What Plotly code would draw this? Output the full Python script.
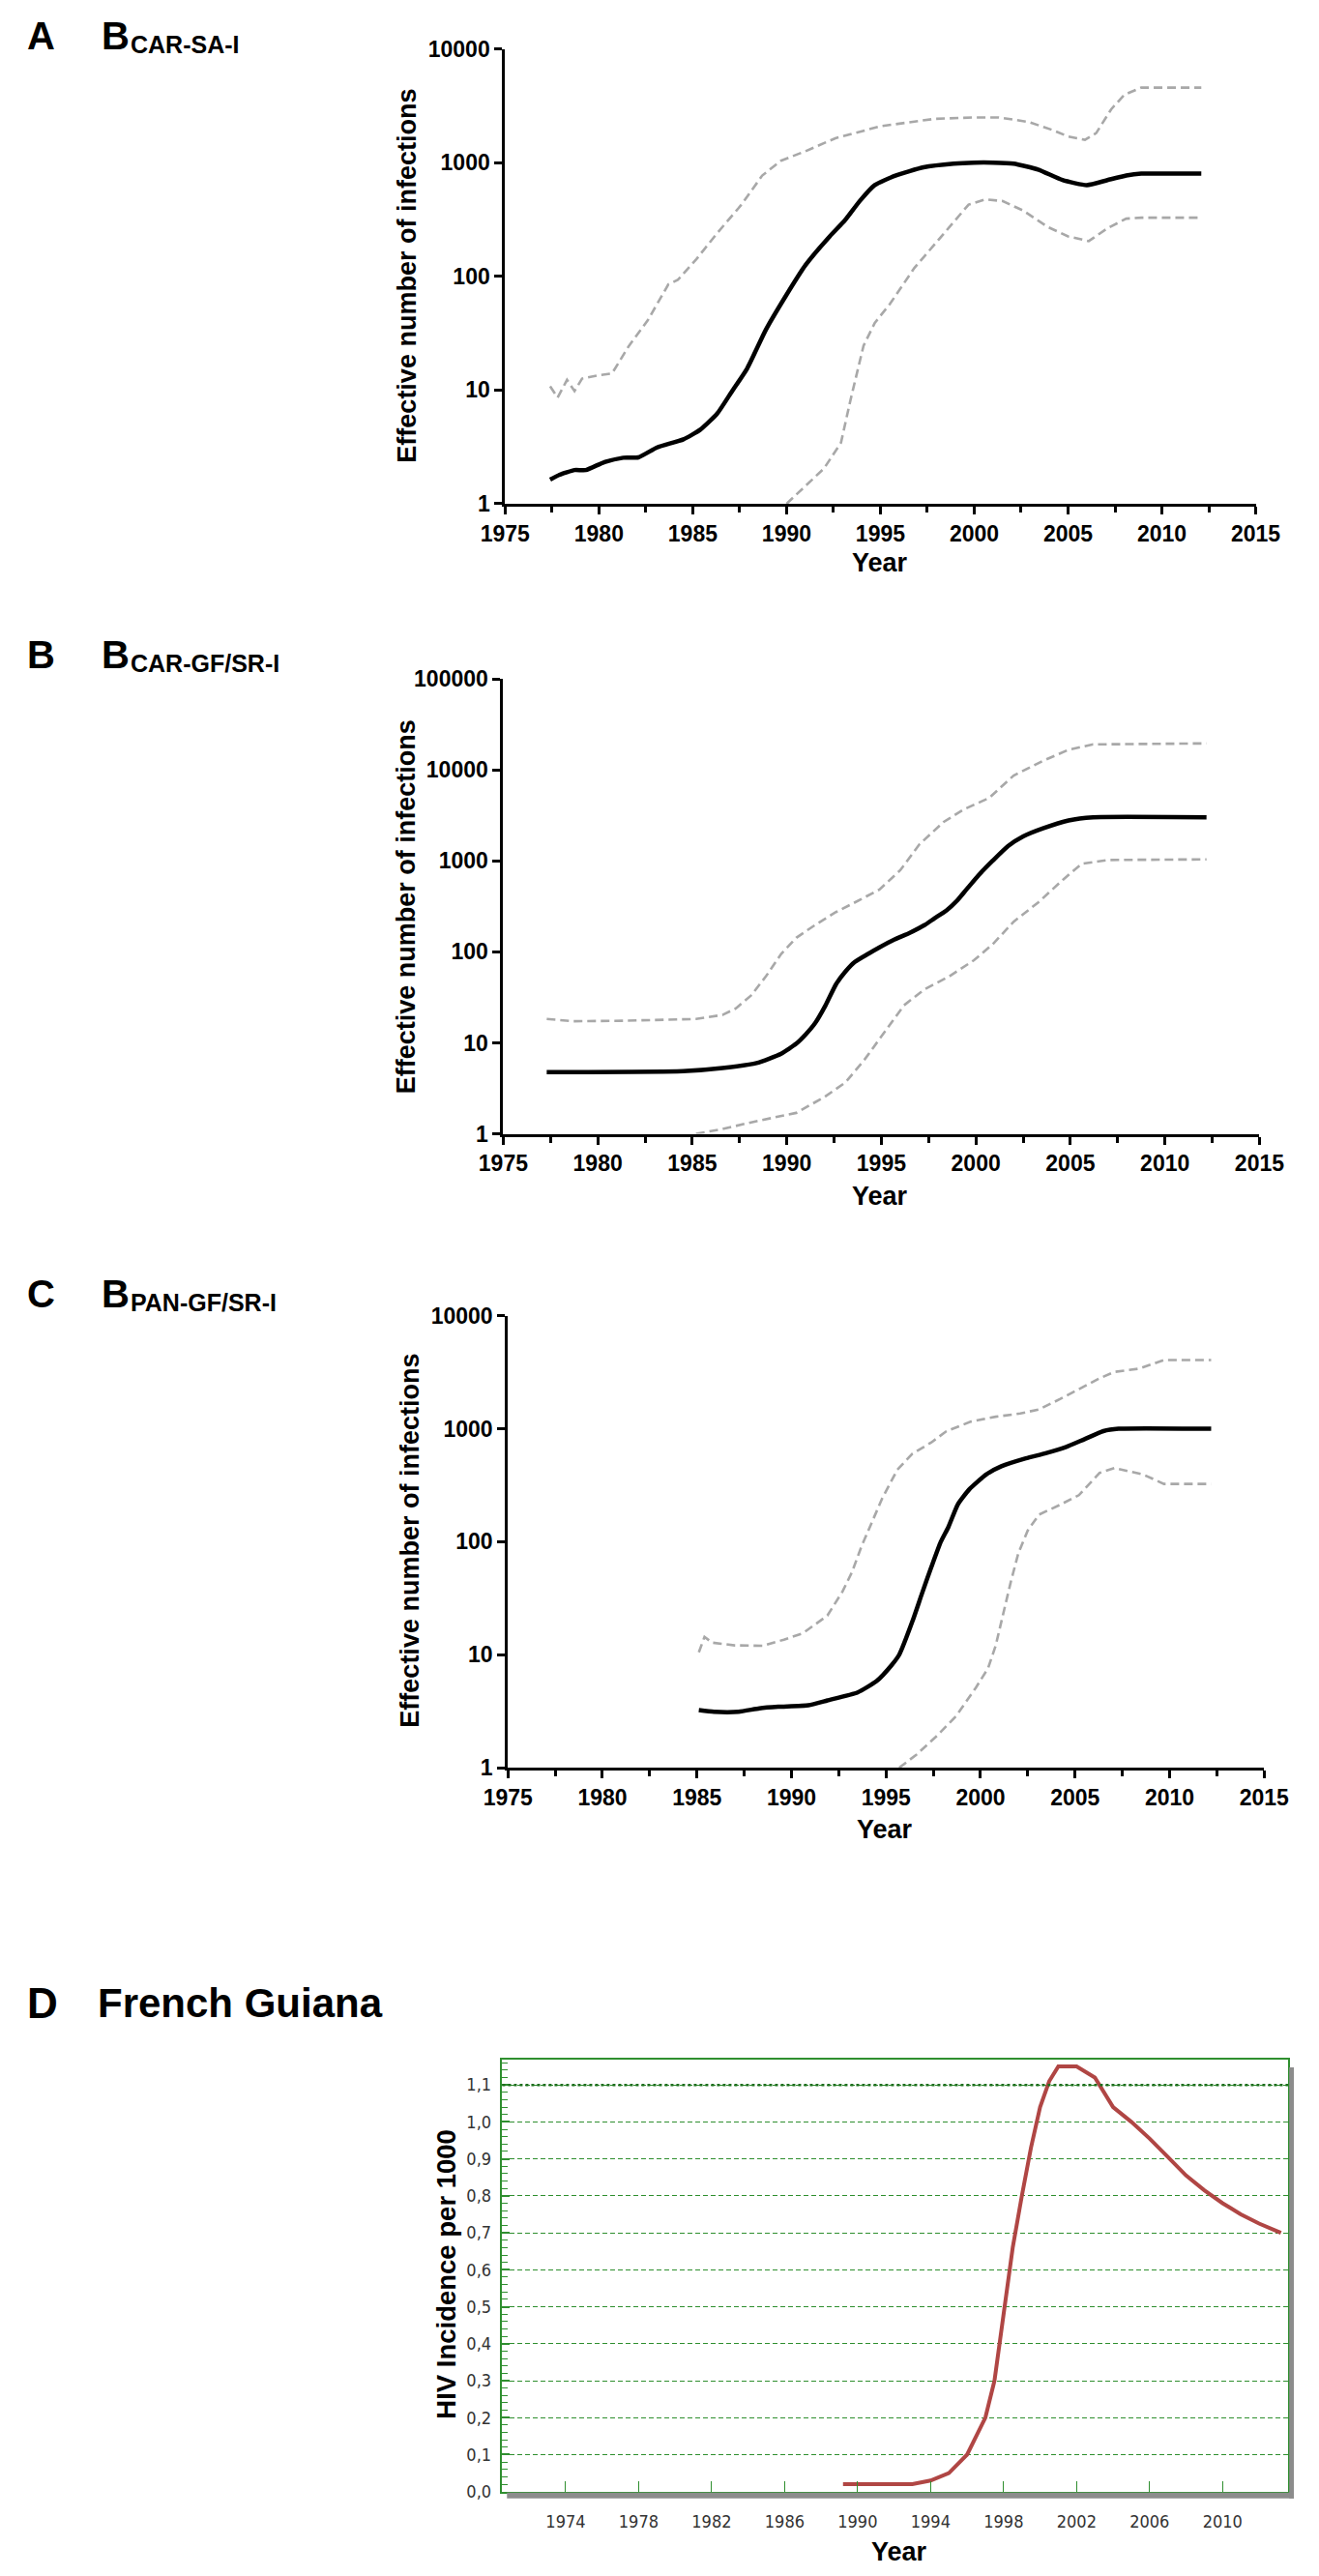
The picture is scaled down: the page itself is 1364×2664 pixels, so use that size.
import plotly.graph_objects as go

W, H = 1364, 2664

# ---- panel A : B CAR-SA-I ----
a_med_x = [1977.4, 1977.9, 1978.7, 1979.3, 1980.3, 1981.3, 1982.1, 1983.1, 1984.5, 1985.4, 1986.3,
           1987.1, 1987.9, 1988.9, 1990.0, 1991.0, 1992.3, 1993.1, 1993.9, 1994.7, 1995.8, 1997.3,
           1998.9, 2000.0, 2001.0, 2002.1, 2003.4, 2004.7, 2006.0, 2007.1, 2008.1, 2008.9, 2012.1]
a_med_y = [1.63, 1.8, 1.98, 1.98, 2.33, 2.54, 2.56, 3.13, 3.69, 4.48, 6.2,
           9.8, 15.5, 34, 69, 125, 225, 310, 460, 635, 770, 910,
           980, 1000, 1000, 980, 870, 703, 635, 703, 770, 800, 800]
a_up_x = [1977.4, 1977.8, 1978.3, 1978.7, 1979.1, 1980.0, 1980.7, 1981.6, 1982.6, 1983.7, 1984.2,
          1985.2, 1986.3, 1987.6, 1988.7, 1989.7, 1991.0, 1992.6, 1995.0, 1997.9, 2000.0, 2001.3,
          2002.9, 2004.2, 2005.0, 2005.9, 2006.5, 2007.3, 2008.0, 2008.9, 2012.1]
a_up_y = [10.8, 8.6, 12.3, 9.8, 12.6, 13.5, 14, 24.5, 41, 85, 93,
          142, 240, 428, 770, 1040, 1260, 1640, 2090, 2430, 2500, 2500,
          2280, 1930, 1700, 1590, 1820, 2950, 3960, 4570, 4570]
a_lo_x = [1990.0, 1991.0, 1992.0, 1992.9, 1993.4, 1994.1, 1994.7, 1995.5, 1996.8, 1998.4, 1999.7,
          2000.6, 2001.5, 2002.6, 2003.9, 2005.0, 2006.1, 2007.1, 2008.1, 2008.9, 2012.1]
a_lo_y = [1.0, 1.43, 2.05, 3.45, 8.1, 24.5, 39, 57, 118, 240, 428,
          475, 460, 380, 273, 225, 204, 265, 322, 328, 328]

# ---- panel B : B CAR-GF/SR-I ----
b_med_x = [1977.3, 1984.5, 1986.6, 1988.4, 1989.7, 1990.5, 1991.0, 1991.5, 1992.05, 1992.6, 1993.1,
           1993.6, 1994.3, 1994.9, 1995.7, 1996.5, 1997.3, 1997.8, 1998.45, 1999.0, 1999.5, 2000.15,
           2000.9, 2001.7, 2002.5, 2003.55, 2004.9, 2006.2, 2012.2]
b_med_y = [4.77, 4.89, 5.3, 6.0, 7.6, 9.8, 12.4, 16.5, 25.9, 44, 60.8,
           77.6, 95, 112, 137, 162, 198, 233, 286, 365, 485, 700,
           1010, 1456, 1860, 2280, 2790, 3020, 3020]
b_up_x = [1977.3, 1978.7, 1981.3, 1985.2, 1986.6, 1987.3, 1988.1, 1988.9, 1989.7, 1990.5, 1991.5,
          1992.6, 1993.6, 1994.9, 1996.0, 1997.0, 1998.3, 1999.4, 2000.7, 2002.0, 2003.55, 2004.9,
          2006.2, 2012.2]
b_up_y = [18.3, 17.3, 17.5, 18.3, 20.3, 23.9, 33, 54, 95, 143, 198,
          274, 350, 485, 790, 1510, 2690, 3720, 4920, 8700, 12600, 16700,
          19100, 19600]
b_lo_x = [1985.2, 1986.6, 1988.4, 1990.5, 1992.0, 1993.1, 1994.1, 1995.2, 1996.2, 1997.3, 1998.6,
          1999.9, 2000.9, 2002.0, 2003.3, 2004.6, 2005.6, 2007.0, 2012.2]
b_lo_y = [1.0, 1.13, 1.38, 1.70, 2.55, 3.67, 6.5, 13.5, 25.9, 39, 54,
          81, 122, 215, 350, 620, 930, 1025, 1040]

# ---- panel C : B PAN-GF/SR-I ----
c_med_x = [1985.1, 1985.9, 1987.2, 1988.3, 1989.3, 1990.9, 1991.9, 1993.5, 1994.5, 1995.3, 1995.7,
           1996.4, 1996.9, 1997.4, 1997.9, 1998.3, 1998.8, 1999.4, 2000.3, 2001.1, 2002.4, 2003.4,
           2004.5, 2005.5, 2006.5, 2007.3, 2012.2]
c_med_y = [3.24, 3.13, 3.13, 3.35, 3.46, 3.57, 3.94, 4.64, 5.84, 8.1, 10.0,
           19.8, 34.7, 59.7, 100, 135, 214, 290, 394, 465, 547, 604,
           687, 809, 953, 1000, 1000]
c_up_x = [1985.1, 1985.4, 1985.8, 1987.0, 1988.5, 1989.6, 1990.6, 1991.9, 1992.7, 1993.2, 1993.7,
          1994.3, 1994.8, 1995.6, 1996.4, 1997.4, 1998.2, 1999.5, 2000.8, 2002.1, 2003.1, 2004.2,
          2005.2, 2006.3, 2007.1, 2008.4, 2009.7, 2012.2]
c_up_y = [10.5, 14.4, 12.8, 12.1, 12.0, 13.6, 15.5, 22.2, 36.3, 53.7, 90.6,
          153, 242, 434, 602, 757, 952, 1158, 1277, 1364, 1485, 1829,
          2227, 2800, 3190, 3405, 4060, 4060]
c_lo_x = [1995.7, 1996.6, 1997.7, 1998.7, 1999.75, 2000.4, 2000.8, 2001.2, 2001.6, 2002.0, 2002.5,
          2003.1, 2004.2, 2005.2, 2006.3, 2007.1, 2007.8, 2008.6, 2009.7, 2012.2]
c_lo_y = [1.0, 1.30, 1.92, 2.85, 5.1, 7.6, 12, 23, 44, 79, 126,
          174, 212, 258, 407, 449, 421, 394, 325, 325]

# ---- panel D : French Guiana HIV incidence ----
d_x = [1989.2, 1990, 1991, 1992, 1993, 1994, 1995, 1996, 1997, 1997.5, 1998, 1998.5, 1999, 1999.5,
       2000, 2000.5, 2001, 2001.5, 2002, 2003, 2004, 2005, 2006, 2007, 2008, 2009, 2010, 2011,
       2012, 2013.2]
d_y = [0.02, 0.02, 0.02, 0.02, 0.02, 0.03, 0.05, 0.10, 0.20, 0.30, 0.48, 0.66, 0.80, 0.93,
       1.04, 1.11, 1.15, 1.15, 1.15, 1.12, 1.04, 1.00, 0.955, 0.905, 0.855, 0.815, 0.78, 0.75,
       0.725, 0.70]

log_ticks = [1, 10, 100, 1000, 10000, 100000]
d_yticks = [0.0, 0.1, 0.2, 0.3, 0.4, 0.5, 0.6, 0.7, 0.8, 0.9, 1.0, 1.1]
d_xticks = [1974, 1978, 1982, 1986, 1990, 1994, 1998, 2002, 2006, 2010]

FONT = "Liberation Sans, Arial, sans-serif"
NARROW = "Liberation Sans Narrow, DejaVu Sans Condensed, Arial Narrow, sans-serif"
GREEN = "#2f8f2f"


def px_x(p):
    return p / W


def px_y(p):
    return 1 - p / H


fig = go.Figure()

panels = [
    # (axis suffix, med, up, lo, x px range, y px range (top, bottom), log top)
    ("", (a_med_x, a_med_y), (a_up_x, a_up_y), (a_lo_x, a_lo_y), (516, 1323), (38, 513), 4),
    ("2", (b_med_x, b_med_y), (b_up_x, b_up_y), (b_lo_x, b_lo_y), (514, 1327), (696, 1171), 5),
    ("3", (c_med_x, c_med_y), (c_up_x, c_up_y), (c_lo_x, c_lo_y), (519, 1332), (1361, 1833), 4),
]

dash_style = dict(color="#a8a8a8", width=2.6, dash="9px,5px")

for sfx, med, up, lo, xr, yr, top in panels:
    xa, ya = "x" + sfx, "y" + sfx
    fig.add_trace(go.Scatter(x=up[0], y=up[1], mode="lines", line=dash_style, xaxis=xa, yaxis=ya))
    fig.add_trace(go.Scatter(x=lo[0], y=lo[1], mode="lines", line=dash_style, xaxis=xa, yaxis=ya))
    fig.add_trace(go.Scatter(x=med[0], y=med[1], mode="lines",
                             line=dict(color="black", width=4.5, shape="spline", smoothing=0.5),
                             xaxis=xa, yaxis=ya))
    ticks = [t for t in log_ticks if t <= 10 ** top]
    fig.update_layout({
        "xaxis" + sfx: dict(domain=[px_x(xr[0]), px_x(xr[1])], anchor=ya, range=[1975, 2015],
                            tick0=1975, dtick=5, ticks="outside", ticklen=8, tickwidth=2.5,
                            tickcolor="black", showline=True, linewidth=3, linecolor="black",
                            showgrid=False, zeroline=False,
                            minor=dict(dtick=2.5, ticks="outside", ticklen=6, tickwidth=2.5,
                                       tickcolor="black"),
                            tickfont=dict(family=FONT, size=23, color="black", weight="bold")),
        "yaxis" + sfx: dict(domain=[px_y(yr[1]), px_y(yr[0])], anchor=xa, type="log",
                            range=[0, top], tickvals=ticks, ticktext=[str(t) for t in ticks],
                            ticks="outside", ticklen=8, tickwidth=2.5, tickcolor="black",
                            showline=True, linewidth=3, linecolor="black", showgrid=False,
                            zeroline=False,
                            tickfont=dict(family=FONT, size=23, color="black", weight="bold")),
    })

# panel D
fig.add_trace(go.Scatter(x=d_x, y=d_y, mode="lines", line=dict(color="#b04644", width=4),
                         xaxis="x4", yaxis="y4"))
fig.update_layout(
    xaxis4=dict(domain=[px_x(513), px_x(1358)], anchor="y4", range=[1970.53, 2013.6],
                tickvals=d_xticks, ticks="inside", ticklen=11, tickwidth=1, tickcolor=GREEN,
                showline=True, mirror=True, linewidth=1.5, linecolor=GREEN, showgrid=False,
                zeroline=False, ticklabelstandoff=14,
                tickfont=dict(family=NARROW, size=18, color="#333333")),
    yaxis4=dict(domain=[px_y(2589), px_y(2138)], anchor="x4", range=[0, 1.168],
                tickvals=d_yticks, ticktext=[f"{v:.1f}".replace(".", ",") for v in d_yticks],
                ticks="inside", ticklen=8, tickwidth=1.5, tickcolor=GREEN,
                showline=True, mirror=True, linewidth=1.5, linecolor=GREEN,
                showgrid=True, gridcolor=GREEN, gridwidth=1, griddash="5px,3px", zeroline=False,
                minor=dict(dtick=0.02, ticks="inside", ticklen=6, tickwidth=1, tickcolor=GREEN),
                ticklabelstandoff=6,
                tickfont=dict(family=NARROW, size=18, color="#333333")),
)

shapes = [
    # emphasised 1,1 line
    dict(type="line", xref="x4 domain", x0=0, x1=1, yref="y4", y0=1.1, y1=1.1,
         line=dict(color="#1d6e1d", width=2.5, dash="dot")),
    # grey drop shadow under / right of the frame
    dict(type="rect", xref="paper", yref="paper", x0=px_x(518), x1=px_x(1364),
         y0=px_y(2596), y1=px_y(2590), fillcolor="#8c8c8c", line=dict(width=0)),
    dict(type="rect", xref="paper", yref="paper", x0=px_x(1359), x1=px_x(1364),
         y0=px_y(2596), y1=px_y(2146), fillcolor="#8c8c8c", line=dict(width=0)),
]

annotations = []


def text(t, x, y, size, angle=0, xanchor="center", weight="bold", family=FONT):
    annotations.append(dict(text=t, x=px_x(x), y=px_y(y), xref="paper", yref="paper",
                            xanchor=xanchor, yanchor="middle", showarrow=False, textangle=angle,
                            font=dict(family=family, size=size, color="black", weight=weight)))


# panel letters and titles
for letter, sub, yc in [("A", "CAR-SA-I", 24), ("B", "CAR-GF/SR-I", 671), ("C", "PAN-GF/SR-I", 1338)]:
    text(letter, 0, yc, 40, xanchor="left")
    text("B", 80, yc, 40, xanchor="left")
    text(sub, 111, yc + 9, 25, xanchor="left")
text("D", 0, 2079, 44, xanchor="left")
text("French Guiana", 76, 2079, 42, xanchor="left")

# axis titles
text("Effective number of infections", 411, 275, 27, angle=-90)
text("Effective number of infections", 410, 934, 27, angle=-90)
text("Effective number of infections", 414, 1596, 27, angle=-90)
text("Year", 919, 575, 27)
text("Year", 919, 1236, 27)
text("Year", 924, 1898, 27)
text("HIV Incidence per 1000", 453, 2362, 27.5, angle=-90)
text("Year", 940, 2652, 27)

fig.update_layout(width=W, height=H, margin=dict(l=0, r=0, t=0, b=0), showlegend=False,
                  paper_bgcolor="white", plot_bgcolor="white", shapes=shapes,
                  annotations=annotations)

# the page body keeps its default 8px margin otherwise; no modebar on the picture
fig.write_html("out.html", config={"displayModeBar": False},
               post_script="document.body.style.margin = '0';")
